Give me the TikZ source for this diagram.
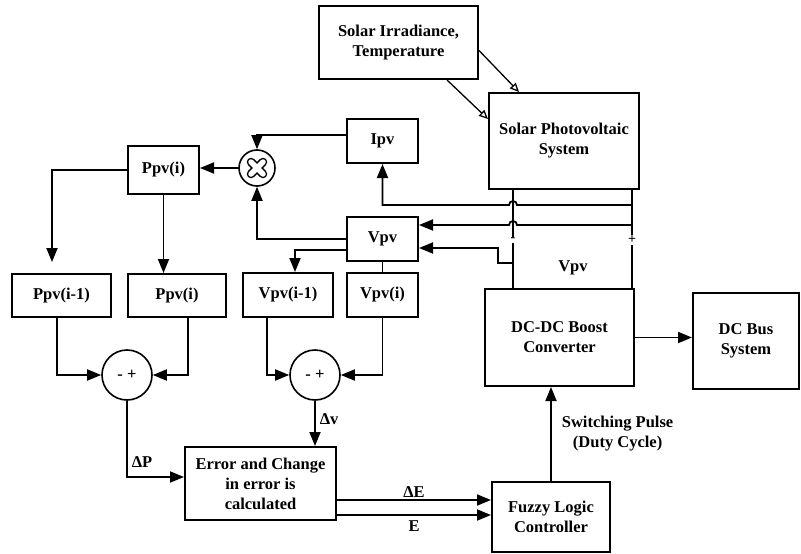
\documentclass[tikz,border=0pt]{standalone}
\usepackage{fontspec}
\setmainfont{Liberation Serif}
\newfontfamily\figfont{Liberation Serif}
\usetikzlibrary{arrows.meta, positioning}

\begin{document}
\begin{tikzpicture}[
      x=1pt, y=-1pt,
      font=\figfont\fontsize{16.5}{20}\selectfont\bfseries,
      every node/.style={inner sep=0pt},
      block/.style={draw, line width=2pt, align=center},
      sumnode/.style={draw, circle, line width=1.6pt, minimum size=50pt},
      wire/.style={line width=1.8pt},
      flow/.style={wire, -{Triangle[length=14pt, width=11pt]}},
      hollow/.style={line width=1.3pt, -{Triangle[open, length=9pt, width=8pt]}},
      pole/.style={fill=white, inner sep=1.5pt, font=\figfont\fontsize{14}{14}\selectfont\bfseries}
    ]
      \useasboundingbox (0,0) rectangle (801,554);

      \node[block, minimum width=159pt, minimum height=73pt] (irr) at (398.5,42.5) {Solar Irradiance,\\Temperature};
      \node[block, minimum width=150pt, minimum height=96pt] (pv) at (564,141) {Solar Photovoltaic\\System};
      \node[block, minimum width=149pt, minimum height=97pt] (conv) at (559.5,337.5) {DC-DC Boost\\Converter};
      \node[block, minimum width=106pt, minimum height=96pt] (bus) at (746,341) {DC Bus\\System};
      \node[block, minimum width=118pt, minimum height=70pt] (flc) at (551,517) {Fuzzy Logic\\Controller};
      \node[block, minimum width=151pt, minimum height=73pt] (err) at (260.5,483.5) {Error and Change\\in error is\\calculated};

      \node[block, minimum width=71pt, minimum height=44pt] (ipv) at (382.5,141) {Ipv};
      \node[block, minimum width=71pt, minimum height=44pt] (vpv) at (382.5,239) {Vpv};
      \node[block, minimum width=71pt, minimum height=48pt] (ppv) at (163.5,170) {Ppv(i)};
      \node[draw, circle, line width=1.6pt, minimum size=36pt] (mult) at (257,168) {};
      \node[block, minimum width=99pt, minimum height=43pt] (ppvold) at (61.5,295.5) {Ppv(i-1)};
      \node[block, minimum width=98pt, minimum height=43pt] (ppvnew) at (177,295.5) {Ppv(i)};
      \node[block, minimum width=90pt, minimum height=44pt] (vpvold) at (288,295) {Vpv(i-1)};
      \node[block, minimum width=71pt, minimum height=44pt] (vpvnew) at (382.5,295) {Vpv(i)};
      \node[sumnode] (sum1) at (127,375) {- +};
      \node[sumnode] (sum2) at (315,375) {- +};

      % multiplier mark
      \draw[line width=8.5pt, line cap=round] (mult.center) +(-6,-6) -- +(6,6) +(-6,6) -- +(6,-6);
      \draw[white, line width=5.5pt, line cap=round] (mult.center) +(-6,-6) -- +(6,6) +(-6,6) -- +(6,-6);

      % panel terminals
      \coordinate (neg) at (513,0 |- pv.south);
      \coordinate (pos) at (632,0 |- pv.south);
      \draw[wire] (neg) -- (neg |- conv.north);
      \draw[wire] (pos) -- (pos |- conv.north);
      \node[pole] at (513,240) {-};
      \node[pole] at (632,240) {+};
      \node at (573,268) {Vpv};

      \draw[hollow] ([yshift=-8pt]irr.east) -- ([xshift=31pt]pv.north west);
      \draw[hollow] ([xshift=-32pt]irr.south east) -- ([yshift=-27pt]pv.north west);

      \draw[flow] (pos |- 0,205) -- (517,205) arc[start angle=0, end angle=180, radius=4pt]
        -- (ipv.south |- 0,205) -- (ipv.south);
      \draw[flow] (pos |- 0,225) -- (517,225) arc[start angle=0, end angle=180, radius=4pt]
        -- (vpv.east |- 0,225);
      \draw[flow] (neg |- 0,263) -- (498,263) -- (498,248) -- (vpv.east |- 0,248);

      \draw[flow] ([yshift=6pt]ipv.west) -| (mult.north);
      \draw[flow] (vpv.west) -| (mult.south);
      \draw[flow] (mult.west) -- (mult.west -| ppv.east);
      \draw[flow, shorten >=11pt] (ppv.west) -| ([xshift=-9.5pt]ppvold.north);
      \draw[flow] (ppv.south) -- (ppv.south |- ppvnew.north);
      \draw[flow] (vpv.west |- 0,250) -| ([xshift=7pt]vpvold.north);
      \draw[wire] (vpv.south) -- (vpvnew.north);

      \draw[flow] ([xshift=-4.5pt]ppvold.south) |- (sum1.west);
      \draw[flow] ([xshift=11pt]ppvnew.south) |- (sum1.east);
      \draw[flow] ([xshift=-21pt]vpvold.south) |- (sum2.west);
      \draw[flow] (vpvnew.south) |- (sum2.east);

      \draw[flow] (sum1.south) |- node[pos=0.4, right=4pt] {ΔP} ([yshift=6.5pt]err.west);
      \draw[flow] (sum2.south) -- node[pos=0.4, right=4pt] {Δv} (sum2.south |- err.north);
      \draw[flow] ([yshift=-16.5pt]err.east) -- node[above=2pt] {ΔE} ([yshift=-16.5pt]err.east -| flc.west);
      \draw[flow] ([yshift=-31.5pt]err.east) -- node[below=5pt] {E} ([yshift=-31.5pt]err.east -| flc.west);

      \draw[flow] (flc.north) -- node[right=10pt, align=center] {Switching Pulse\\(Duty Cycle)} (flc.north |- conv.south);
      \draw[flow] (conv.east) -- (conv.east -| bus.west);
    \end{tikzpicture}
\end{document}
